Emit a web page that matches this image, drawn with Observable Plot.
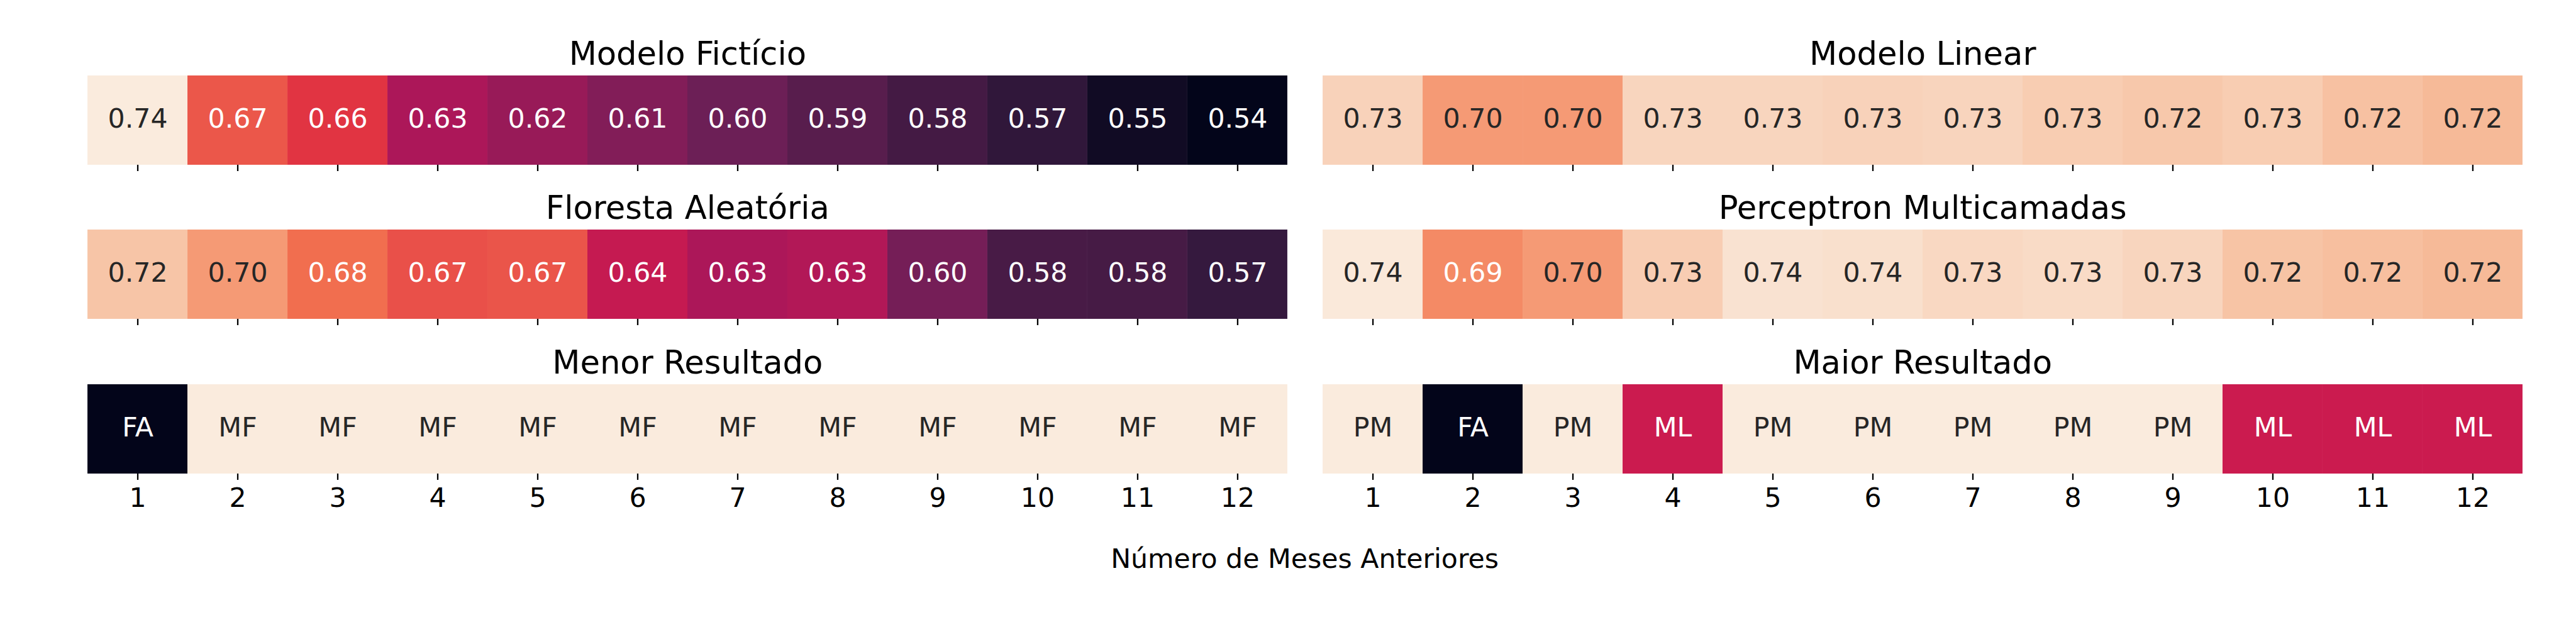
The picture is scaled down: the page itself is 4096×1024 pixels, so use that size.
<!DOCTYPE html>
<html>
<head>
<meta charset="utf-8">
<script src="https://cdn.jsdelivr.net/npm/d3@7"></script>
<script src="https://cdn.jsdelivr.net/npm/@observablehq/plot@0.6"></script>
<style>
html, body { margin: 0; padding: 0; background: #fff; }
#root { position: relative; width: 4096px; height: 1024px; overflow: hidden; font-family: "DejaVu Sans"; }
.panel { position: absolute; }
.panel svg { display: block; max-width: none !important; overflow: visible; }
.panel svg g[aria-label^="x-axis"] line,
.panel svg g[aria-label^="x-axis"] path { stroke-width: 2.3px; stroke: #000; }
</style>
</head>
<body>
<div id="root"></div>
<script>
// ---------------- data ----------------
const months = [1, 2, 3, 4, 5, 6, 7, 8, 9, 10, 11, 12];

const titleMF = "Modelo Fictício";
const titleML = "Modelo Linear";
const titleFA = "Floresta Aleatória";
const titlePM = "Perceptron Multicamadas";
const titleMin = "Menor Resultado";
const titleMax = "Maior Resultado";
const xLabel = "Número de Meses Anteriores";

const mfValues = [0.742, 0.671, 0.656, 0.626, 0.6165, 0.606, 0.596, 0.586, 0.576, 0.566, 0.548, 0.540];
const mlValues = [0.729, 0.701, 0.701, 0.7305, 0.7305, 0.729, 0.730, 0.726, 0.7236, 0.726, 0.720, 0.7165];
const faValues = [0.722, 0.701, 0.681, 0.668, 0.670, 0.638, 0.626, 0.629, 0.600, 0.578, 0.577, 0.569];
const pmValues = [0.741, 0.6935, 0.701, 0.7265, 0.7374, 0.7362, 0.732, 0.7335, 0.7305, 0.7214, 0.719, 0.7165];
const minLabels = ["FA", "MF", "MF", "MF", "MF", "MF", "MF", "MF", "MF", "MF", "MF", "MF"];
const maxLabels = ["PM", "FA", "PM", "ML", "PM", "PM", "PM", "PM", "PM", "ML", "ML", "ML"];

// rocket colormap stops
const rocketPos = [0, 1/7, 2/7, 3/7, 0.5, 4/7, 5/7, 6/7, 1];
const rocketColors = ["#03051a", "#35193e", "#701f57", "#ad1759", "#cb1b4f", "#e13342", "#f37651", "#f6b48f", "#faebdd"];

// ---------------- layout ----------------
const W = 1917.6;
const CELL_H = 142;
const MT = 70;
const FS = 42.67;
const TFS = 51.2;
const lefts = [133.7, 2097.9];
const cellTops = [120.2, 365.2, 611.0];

const rocketScale = d3.scaleLinear().domain(rocketPos).range(rocketColors).interpolate(d3.interpolateRgb).clamp(true);
const rocket = (t) => rocketScale(t);

const allValues = [...mfValues, ...mlValues, ...faValues, ...pmValues];
const valueExtent = d3.extent(allValues);
const fmt = d3.format(".2f");

function luminance(c) {
  const r = d3.rgb(c);
  const f = (v) => { v /= 255; return v <= 0.03928 ? v / 12.92 : Math.pow((v + 0.055) / 1.055, 2.4); };
  return 0.2126 * f(r.r) + 0.7152 * f(r.g) + 0.0722 * f(r.b);
}

const panels = [
  {title: titleMF, values: mfValues, col: 0, row: 0},
  {title: titleML, values: mlValues, col: 1, row: 0},
  {title: titleFA, values: faValues, col: 0, row: 1},
  {title: titlePM, values: pmValues, col: 1, row: 1},
  {title: titleMin, labels: minLabels, col: 0, row: 2},
  {title: titleMax, labels: maxLabels, col: 1, row: 2}
];

const root = document.getElementById("root");

for (const p of panels) {
  let data, colorOpts;
  if (p.values) {
    data = months.map((m, i) => ({month: m, v: p.values[i], label: fmt(p.values[i])}));
    colorOpts = {type: "linear", domain: valueExtent, interpolate: rocket};
  } else {
    const cats = Array.from(new Set(p.labels)).sort();
    data = months.map((m, i) => ({month: m, v: cats.indexOf(p.labels[i]), label: p.labels[i]}));
    colorOpts = {type: "linear", domain: [0, cats.length - 1], interpolate: rocket};
  }
  const cs = Plot.scale({color: colorOpts});
  const isDark = (d) => luminance(cs.apply(d.v)) <= 0.408;
  const showLabels = p.row === 2;
  const MB = showLabels ? 72 : 16;

  const chart = Plot.plot({
    width: W,
    height: MT + CELL_H + MB,
    marginTop: MT,
    marginBottom: MB,
    marginLeft: 0,
    marginRight: 0,
    style: {fontFamily: "DejaVu Sans", fontSize: FS + "px", color: "#000", background: "transparent", overflow: "visible"},
    x: {
      type: "band", domain: months, padding: 0, label: null,
      tickSize: 10, tickPadding: 12,
      tickFormat: showLabels ? (d) => String(d) : () => ""
    },
    color: colorOpts,
    marks: [
      Plot.cell(data, {x: "month", fill: "v", inset: 0}),
      Plot.text(data.filter(isDark), {x: "month", text: "label", fill: "white", fontSize: FS, dy: -2}),
      Plot.text(data.filter((d) => !isDark(d)), {x: "month", text: "label", fill: "#262626", fontSize: FS, dy: -2}),
      Plot.text([p.title], {text: (d) => d, frameAnchor: "top", lineAnchor: "bottom", dy: -17.5, fontSize: TFS, fill: "#000"})
    ]
  });

  const div = document.createElement("div");
  div.className = "panel";
  div.style.left = lefts[p.col] + "px";
  div.style.top = (cellTops[p.row] - MT) + "px";
  div.style.width = W + "px";
  div.appendChild(chart);
  root.appendChild(div);
}

// shared x label
const overlay = d3.select(root).append("svg")
  .attr("width", 4096).attr("height", 1024)
  .style("position", "absolute").style("left", "0px").style("top", "0px")
  .style("pointer-events", "none");
overlay.append("text")
  .attr("x", (lefts[0] + lefts[1] + W) / 2)
  .attr("y", 903.4)
  .attr("text-anchor", "middle")
  .attr("font-family", "DejaVu Sans")
  .attr("font-size", FS)
  .attr("fill", "#000")
  .text(xLabel);
</script>
</body>
</html>
